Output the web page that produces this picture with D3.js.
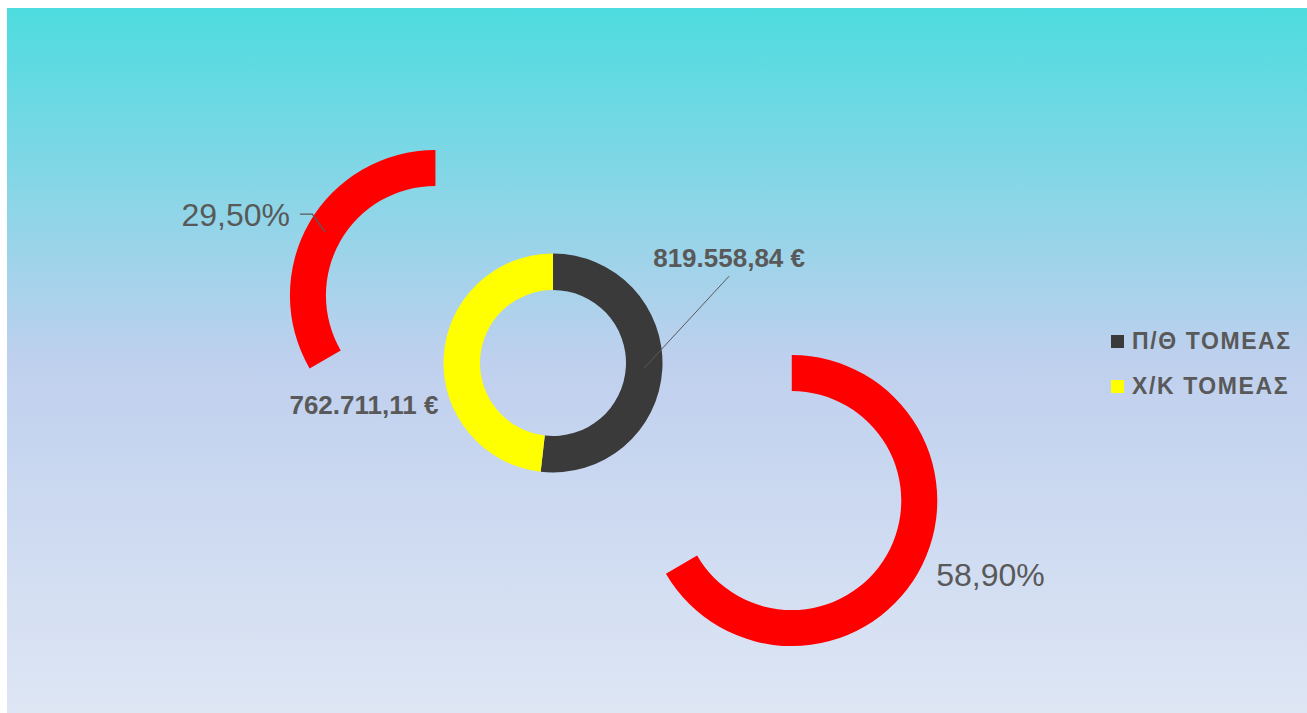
<!DOCTYPE html>
<html>
<head>
<meta charset="utf-8">
<script src="https://cdn.jsdelivr.net/npm/d3@7"></script>
<style>
  body { margin: 0; background: #fff; }
  text { font-family: "Liberation Sans", Arial, sans-serif; fill: #595959; }
</style>
</head>
<body>
<div class="chart"></div>
<script>
// data
const sectors = ["Π/Θ ΤΟΜΕΑΣ", "Χ/Κ ΤΟΜΕΑΣ"];
const sectorColors = ["#3a3a3a", "#ffff00"];
const amounts = [819558.84, 762711.11];
const shares = [58.90, 29.50];

const grLocale = d3.formatLocale({decimal: ",", thousands: ".", grouping: [3], currency: ["", " €"]});
const fmtMoney = grLocale.format("$,.2f");
const fmtPct = grLocale.format(".2f");

var width = 1307, height = 713;

var svg = d3.select(".chart").append("svg")
    .attr("width", width)
    .attr("height", height);

// background panel gradient
var grad = svg.append("defs").append("linearGradient")
    .attr("id", "bg").attr("x1", 0).attr("y1", 0).attr("x2", 0).attr("y2", 1);
grad.append("stop").attr("offset", "0%").attr("stop-color", "#4ddcdf");
grad.append("stop").attr("offset", "50%").attr("stop-color", "#bfd0ee");
grad.append("stop").attr("offset", "100%").attr("stop-color", "#dee6f4");

svg.append("rect")
    .attr("x", 7).attr("y", 8)
    .attr("width", width - 7).attr("height", height - 8)
    .style("fill", "url(#bg)");

var pie = d3.pie().sort(null);

// outer (exploded) share ring
var shareCenter = [613.6, 398], explode = 205.6;
var shareArc = d3.arc().innerRadius(109.5).outerRadius(145.5);
var shareSlices = pie(shares);

var sg = svg.selectAll(".share")
    .data(shareSlices)
  .enter().append("g")
    .attr("class", "share")
    .attr("transform", function(d) {
      var a = (d.startAngle + d.endAngle) / 2;
      return "translate(" + (shareCenter[0] + explode * Math.sin(a)) + "," +
             (shareCenter[1] - explode * Math.cos(a)) + ")";
    });

sg.append("path")
    .attr("d", shareArc)
    .style("fill", "#ff0000");

// 58,90% label (no leader)
sg.filter(function(d, i) { return i === 0; }).append("text")
    .attr("x", function(d) { return shareArc.centroid(d)[0] + 34; })
    .attr("y", function(d) { return shareArc.centroid(d)[1] + 22; })
    .style("font-size", "32px")
    .text(function(d) { return fmtPct(d.data) + "%"; });

// 29,50% label with leader
var left = sg.filter(function(d, i) { return i === 1; });
left.append("polyline")
    .attr("points", function(d) {
      var c = shareArc.centroid(d);
      return [[c[0], c[1]], [c[0] - 12.6, c[1] - 17.7], [c[0] - 25, c[1] - 17.7]].join(" ");
    })
    .style("fill", "none")
    .style("stroke", "#595959")
    .style("stroke-width", 1.3);
left.append("text")
    .attr("x", function(d) { return shareArc.centroid(d)[0] - 35; })
    .attr("y", function(d) { return shareArc.centroid(d)[1] - 5.5; })
    .attr("text-anchor", "end")
    .style("font-size", "32px")
    .text(function(d) { return fmtPct(d.data) + "%"; });

// central amount ring
var ring = svg.append("g").attr("transform", "translate(553,363)");
var ringArc = d3.arc().innerRadius(73).outerRadius(109.5);
var ringSlices = pie(amounts);

ring.selectAll("path")
    .data(ringSlices)
  .enter().append("path")
    .attr("d", ringArc)
    .style("fill", function(d, i) { return sectorColors[i]; });

// 819.558,84 € label with leader
var c0 = ringArc.centroid(ringSlices[0]);
ring.append("line")
    .attr("x1", c0[0]).attr("y1", c0[1])
    .attr("x2", c0[0] + 85).attr("y2", c0[1] - 92)
    .style("stroke", "#595959")
    .style("stroke-width", 1);
ring.append("text")
    .attr("x", c0[0] + 85).attr("y", c0[1] - 101.5)
    .attr("text-anchor", "middle")
    .style("font-size", "26px")
    .style("font-weight", "bold")
    .text(fmtMoney(amounts[0]));

// 762.711,11 € label
var c1 = ringArc.centroid(ringSlices[1]);
ring.append("text")
    .attr("x", c1[0] - 98).attr("y", c1[1] + 56)
    .attr("text-anchor", "middle")
    .style("font-size", "26px")
    .style("font-weight", "bold")
    .text(fmtMoney(amounts[1]));

// legend
var legend = svg.selectAll(".legend")
    .data(sectors)
  .enter().append("g")
    .attr("class", "legend")
    .attr("transform", function(d, i) { return "translate(1111," + (335 + i * 45) + ")"; });

legend.append("rect")
    .attr("width", 13).attr("height", 13)
    .style("fill", function(d, i) { return sectorColors[i]; });

legend.append("text")
    .attr("x", 21).attr("y", 14)
    .style("font-size", "23px")
    .style("font-weight", "bold")
    .style("letter-spacing", "1.6px")
    .text(function(d) { return d; });
</script>
</body>
</html>
